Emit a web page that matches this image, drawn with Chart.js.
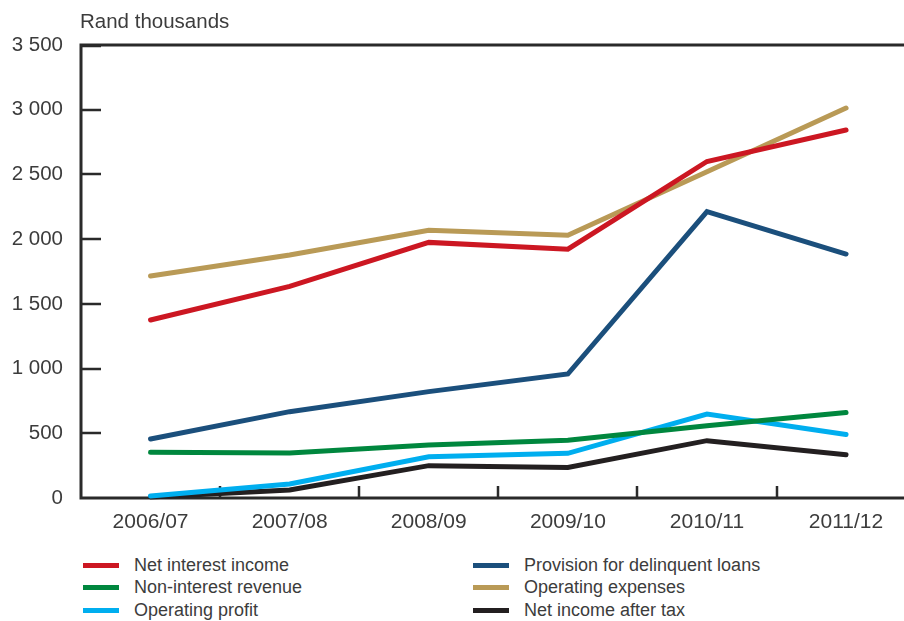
<!DOCTYPE html>
<html>
<head>
<meta charset="utf-8">
<script src="https://cdn.jsdelivr.net/npm/chart.js@4/dist/chart.umd.min.js"></script>
<style>
  html, body { margin: 0; padding: 0; background: #fff; }
  body { width: 904px; height: 621px; overflow: hidden; position: relative; font-family: "Liberation Sans", Arial, sans-serif; }
  #wrap { position: absolute; left: 0; top: 0; width: 940px; height: 540px; }
  #legend { position: absolute; left: 0; top: 554px; width: 904px; height: 67px; }
  .item { position: absolute; height: 22px; display: flex; align-items: center; font-size: 18px; color: #3c3c3c; white-space: nowrap; }
  .swatch { width: 36px; height: 5px; margin-right: 15px; }
</style>
</head>
<body>
<div id="wrap"><canvas id="c" width="940" height="540"></canvas></div>
<div id="legend"></div>
<script>
// Financial years on the category axis
const years = ['2006/07', '2007/08', '2008/09', '2009/10', '2010/11', '2011/12'];

// Values in Rand thousands
const netInterestIncome = [1375, 1635, 1975, 1922, 2600, 2843];
const nonInterestRevenue = [353, 348, 409, 446, 558, 660];
const operatingProfit = [15, 108, 319, 345, 649, 490];
const provisionDelinquent = [456, 667, 822, 958, 2212, 1885];
const operatingExpenses = [1715, 1877, 2069, 2030, 2520, 3013];
const netIncomeAfterTax = [8, 62, 250, 236, 443, 335];

// Value-axis range and tick step
const yMin = 0;
const yMax = 3500;
const yStep = 500;

const seriesNames = [
  'Net interest income', 'Non-interest revenue', 'Operating profit',
  'Provision for delinquent loans', 'Operating expenses', 'Net income after tax'
];
const seriesData = [
  netInterestIncome, nonInterestRevenue, operatingProfit,
  provisionDelinquent, operatingExpenses, netIncomeAfterTax
];
const seriesColors = ['#cc1722', '#00873e', '#00aeef', '#1b4f7c', '#b99a56', '#231f20'];

const axisColor = '#2a2a2a';
const textColor = '#3c3c3c';
const fontFamily = '"Liberation Sans", Arial, sans-serif';

function spaced(v) {
  return String(v).replace(/\B(?=(\d{3})+(?!\d))/g, ' ');
}

// Frame, inward tick marks and the unit caption
const framePlugin = {
  id: 'frame',
  beforeDatasetsDraw(chart) {
    const { ctx, chartArea: a, scales } = chart;
    const x = scales.x, y = scales.y;
    ctx.save();
    ctx.strokeStyle = axisColor;
    ctx.lineCap = 'butt';
    // left, bottom and top edges
    ctx.lineWidth = 3;
    ctx.beginPath();
    ctx.moveTo(a.left, a.top);
    ctx.lineTo(a.left, a.bottom);
    ctx.moveTo(a.left - 1.5, a.bottom);
    ctx.lineTo(chart.width, a.bottom);
    ctx.moveTo(a.left - 1.5, a.top);
    ctx.lineTo(chart.width, a.top);
    ctx.stroke();
    // value ticks pointing into the plot
    ctx.lineWidth = 2.5;
    ctx.beginPath();
    for (let v = yMin + yStep; v < yMax; v += yStep) {
      const py = Math.round(y.getPixelForValue(v));
      ctx.moveTo(a.left, py);
      ctx.lineTo(a.left + 20, py);
    }
    ctx.moveTo(a.left, a.top + 1);
    ctx.lineTo(a.left + 20, a.top + 1);
    ctx.stroke();
    // category boundary ticks pointing up
    ctx.lineWidth = 2.5;
    ctx.beginPath();
    for (let i = 0; i < years.length - 1; i++) {
      const px = Math.round((x.getPixelForValue(i) + x.getPixelForValue(i + 1)) / 2);
      ctx.moveTo(px, a.bottom);
      ctx.lineTo(px, a.bottom - 12);
    }
    ctx.stroke();
    // unit caption
    ctx.fillStyle = textColor;
    ctx.font = '20.5px ' + fontFamily;
    ctx.textAlign = 'left';
    ctx.textBaseline = 'middle';
    ctx.fillText('Rand thousands', a.left - 1, a.top - 23);
    ctx.restore();
  }
};

const chart = new Chart(document.getElementById('c'), {
  type: 'line',
  data: {
    labels: years,
    datasets: seriesNames.map((name, i) => ({
      label: name,
      data: seriesData[i],
      borderColor: seriesColors[i],
      backgroundColor: seriesColors[i],
      borderWidth: 5,
      borderCapStyle: 'round',
      borderJoinStyle: 'miter',
      pointRadius: 0,
      pointHoverRadius: 0,
      tension: 0,
      clip: false
    }))
  },
  options: {
    responsive: false,
    animation: false,
    devicePixelRatio: 1,
    layout: { padding: { top: 45, right: 24.4, bottom: 0, left: 0 } },
    plugins: { legend: { display: false }, tooltip: { enabled: false } },
    scales: {
      x: {
        type: 'category',
        offset: true,
        grid: { display: false, drawTicks: false },
        border: { display: false },
        ticks: {
          color: textColor,
          font: { family: fontFamily, size: 21 },
          padding: 12,
          maxRotation: 0,
          autoSkip: false
        },
        afterFit(scale) { scale.height = 42; }
      },
      y: {
        min: yMin,
        max: yMax,
        grid: { display: false, drawTicks: false },
        border: { display: false },
        ticks: {
          stepSize: yStep,
          color: textColor,
          font: { family: fontFamily, size: 20.5 },
          padding: 18,
          callback: (v) => spaced(v)
        },
        afterFit(scale) { scale.width = 81; }
      }
    }
  },
  plugins: [framePlugin]
});

// Two-column legend built from the datasets
const legend = document.getElementById('legend');
const colX = [[83, 134], [473, 525]];
chart.data.datasets.forEach((ds, i) => {
  const col = Math.floor(i / 3), row = i % 3;
  const el = document.createElement('div');
  el.className = 'item';
  el.style.left = colX[col][0] + 'px';
  el.style.top = (row * 22.8) + 'px';
  const sw = document.createElement('span');
  sw.className = 'swatch';
  sw.style.background = ds.borderColor;
  const tx = document.createElement('span');
  tx.textContent = ds.label;
  el.appendChild(sw);
  el.appendChild(tx);
  legend.appendChild(el);
});
</script>
</body>
</html>
